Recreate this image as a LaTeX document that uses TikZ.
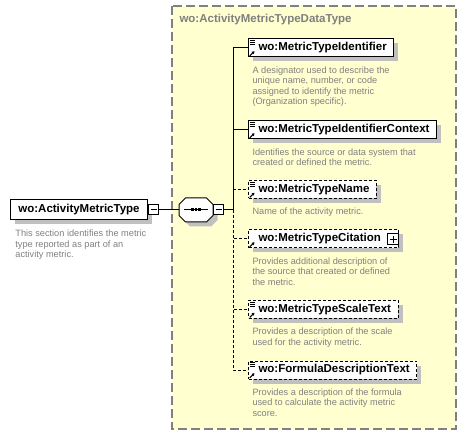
\documentclass[tikz,border=0pt]{standalone}
\usepackage{fontspec}
\setmainfont{Liberation Sans}
\usetikzlibrary{arrows.meta,positioning,shadows}
\definecolor{paneyellow}{RGB}{255,255,208}
\definecolor{panegray}{RGB}{128,128,128}
\definecolor{notegray}{RGB}{128,128,128}
\definecolor{shadegray}{RGB}{192,192,192}

\begin{document}
\begin{tikzpicture}[x=1pt,y=-1pt,>=Latex,line width=1pt,
  boxshadow/.style={drop shadow={shadow xshift=4.5pt,shadow yshift=-4.5pt,fill=shadegray,opacity=1}},
  elem/.style={draw,fill=white,boxshadow,minimum height=18pt,inner xsep=0pt,inner ysep=0pt,anchor=west,
    font=\fontsize{11.5}{13}\selectfont\bfseries,execute at begin node=\hspace*{10pt},execute at end node=\hspace*{7pt}},
  optelem/.style={elem,dash pattern=on 3pt off 2pt},
  note/.style={text=notegray,align=left,inner sep=0pt,font=\fontsize{9.2}{10.4}\selectfont},
  minusbox/.style={draw,fill=white,minimum size=10pt,inner sep=0pt,
    path picture={\draw ([xshift=2pt]path picture bounding box.west) -- ([xshift=-2pt]path picture bounding box.east);}},
  plusbox/.style={draw,fill=white,minimum size=11pt,inner sep=0pt,
    path picture={\draw ([xshift=2pt]path picture bounding box.west) -- ([xshift=-2pt]path picture bounding box.east);
      \draw ([yshift=-2pt]path picture bounding box.north) -- ([yshift=2pt]path picture bounding box.south);}},
  reflines/.pic={\draw[line width=0.8pt] (1.5,2) -- +(5.5,0) (1.5,4) -- +(5.5,0) (1.5,6) -- +(5.5,0);},
  refarrow/.pic={\draw[-{Triangle[length=2.6pt,width=3pt]}] (1.8,-1.6) -- (6.5,-6.3);}]
\useasboundingbox (0,0) rectangle (467,436);

% complex type pane
\draw[fill=paneyellow,draw=panegray,line width=1.5pt,dash pattern=on 9pt off 4pt] (172,6) rectangle (456,429);
\node[anchor=west,inner sep=0pt,text=panegray,font=\fontsize{11.5}{13}\selectfont\bfseries] (title) at (179,19.5) {wo:ActivityMetricTypeDataType};

% root element
\node[draw,fill=white,boxshadow,minimum height=20pt,inner xsep=8pt,inner ysep=0pt,font=\fontsize{11.5}{13}\selectfont\bfseries] (amt) at (79,210) {wo:ActivityMetricType};
\node[minusbox,anchor=west] (amtm) at (amt.east) {};
\node[note,below right=9pt and 5pt of amt.south west] (amtnote) {This section identifies the metric\\type reported as part of an\\activity metric.};

% sequence
\node[minimum width=33pt,minimum height=23pt,inner sep=0pt] (seq) at (196,210) {};
\draw[fill=white,boxshadow] ([xshift=6.5pt]seq.north west) -- ([xshift=-6.5pt]seq.north east)
  -- ([yshift=-6.5pt]seq.north east) -- ([yshift=6.5pt]seq.south east) -- ([xshift=-6.5pt]seq.south east)
  -- ([xshift=6.5pt]seq.south west) -- ([yshift=6.5pt]seq.south west) -- ([yshift=-6.5pt]seq.north west) -- cycle;
\node[minusbox,anchor=west] (seqm) at (seq.east) {};
\draw[shorten <=5pt,shorten >=5pt] (seq.west) -- (seq.east);
\foreach \dx in {-3.6,0,3.6}
  \fill ([xshift=\dx pt]seq.center) +(-1.3pt,-1.5pt) rectangle +(1.3pt,1.5pt);
\coordinate (bus) at (233,210);

% children
\node[elem] (e1) at (248,48) {wo:MetricTypeIdentifier};
\node[elem] (e2) at (248,130) {wo:MetricTypeIdentifierContext};
\node[optelem] (e3) at (248,189.5) {wo:MetricTypeName};
\node[optelem] (e4) at (248,239) {wo:MetricTypeCitation\hspace*{11pt}};
\node[plusbox,anchor=east] (e4p) at ([yshift=-0.5pt]e4.east) {};
\node[optelem] (e5) at (248,309.5) {wo:MetricTypeScaleText};
\node[optelem] (e6) at (248,370) {wo:FormulaDescriptionText};

\foreach \e in {e1,e2,e3,e5,e6}
  \pic at (\e.north west) {reflines};
\foreach \e in {e1,e2,e3,e4,e5,e6}
  \pic at (\e.south west) {refarrow};

\node[note,below right=8.8pt and 4pt of e1.south west] (n1) {A designator used to describe the\\unique name, number, or code\\assigned to identify the metric\\(Organization specific).};
\node[note,below right=8.8pt and 4pt of e2.south west] (n2) {Identifies the source or data system that\\created or defined the metric.};
\node[note,below right=8.8pt and 4pt of e3.south west] (n3) {Name of the activity metric.};
\node[note,below right=8.8pt and 4pt of e4.south west] (n4) {Provides additional description of\\the source that created or defined\\the metric.};
\node[note,below right=8.8pt and 4pt of e5.south west] (n5) {Provides a description of the scale\\used for the activity metric.};
\node[note,below right=8.8pt and 4pt of e6.south west] (n6) {Provides a description of the formula\\used to calculate the activity metric\\score.};

% connectors
\draw (amtm.east) -- (seq.west);
\draw (seqm.east) -- (bus);
\draw (bus) |- (e1.west);
\draw (bus) |- (e2.west);
\foreach \e in {e3,e4,e5,e6}
  \draw[dash pattern=on 3pt off 2pt] (bus) |- (\e.west);
\end{tikzpicture}
\end{document}
